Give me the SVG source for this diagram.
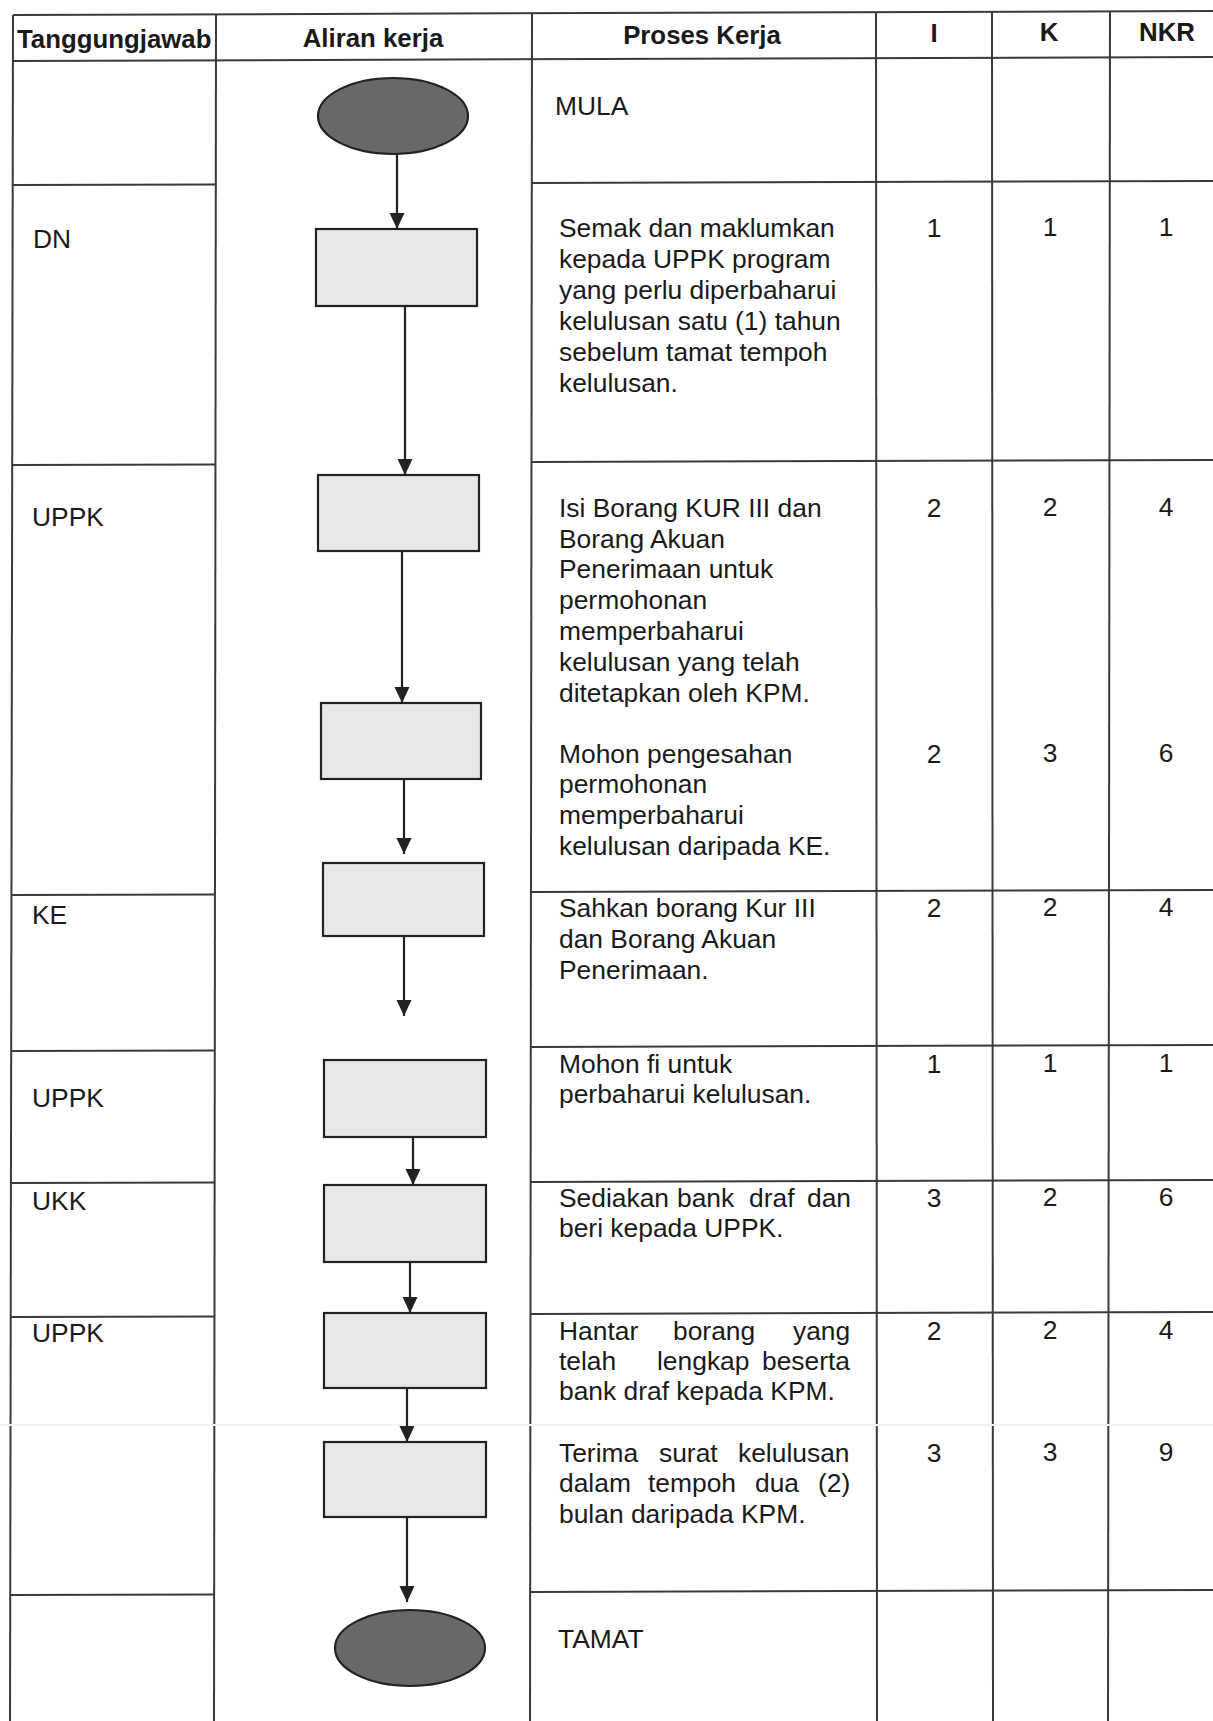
<svg xmlns="http://www.w3.org/2000/svg" width="1213" height="1721" viewBox="0 0 1213 1721">
<style>
.grid{stroke:#3a3a3a;stroke-width:2;fill:none}
.faint{stroke:#f3f3f3;stroke-width:2;fill:none}
.hd{font-family:"Liberation Sans",Arial,sans-serif;font-weight:bold;font-size:25.8px;fill:#1a1a1a}
.tx{font-family:"Liberation Sans",Arial,sans-serif;font-size:26.4px;fill:#1a1a1a}
.num{font-family:"Liberation Sans",Arial,sans-serif;font-size:26.4px;fill:#1a1a1a;text-anchor:middle}
.box{fill:#e7e7e7;stroke:#222;stroke-width:2.2}
.term{fill:#686868;stroke:#222;stroke-width:2.2}
.conn{stroke:#222;stroke-width:2.2;fill:none;marker-end:url(#ah)}
</style>
<defs>
<marker id="ah" markerUnits="userSpaceOnUse" markerWidth="17" markerHeight="16" refX="16" refY="8" orient="auto">
<path d="M0,0.5 L16,8 L0,15.5 z" fill="#222"/>
</marker>
</defs>
<rect width="1213" height="1721" fill="#fff"/>

<g id="table">
<line class="grid" x1="13" y1="15" x2="1213" y2="11"/>
<line class="grid" x1="13" y1="61" x2="1213" y2="57"/>
<line class="grid" x1="13" y1="15" x2="10" y2="1721"/>
<line class="grid" x1="216" y1="15" x2="214" y2="1721"/>
<line class="grid" x1="532" y1="13" x2="530" y2="1721"/>
<line class="grid" x1="876" y1="12" x2="877" y2="1721"/>
<line class="grid" x1="992" y1="12" x2="993" y2="1721"/>
<line class="grid" x1="1110" y1="11" x2="1108" y2="1721"/>
<line class="grid" x1="13" y1="185" x2="216" y2="184.5"/>
<line class="grid" x1="531" y1="183" x2="1213" y2="181"/>
<line class="grid" x1="13" y1="465" x2="216" y2="464.5"/>
<line class="grid" x1="531" y1="462" x2="1213" y2="460"/>
<line class="grid" x1="12" y1="895" x2="215" y2="894.5"/>
<line class="grid" x1="531" y1="892" x2="1213" y2="890"/>
<line class="grid" x1="12" y1="1051" x2="215" y2="1050.5"/>
<line class="grid" x1="531" y1="1047" x2="1213" y2="1045"/>
<line class="grid" x1="11" y1="1183" x2="215" y2="1182.5"/>
<line class="grid" x1="531" y1="1182" x2="1213" y2="1180"/>
<line class="grid" x1="11" y1="1317" x2="215" y2="1316.5"/>
<line class="grid" x1="531" y1="1314" x2="1213" y2="1312"/>
<line class="faint" x1="0" y1="1425" x2="1213" y2="1425"/>
<line class="grid" x1="10" y1="1595" x2="214" y2="1594.5"/>
<line class="grid" x1="531" y1="1592" x2="1213" y2="1590"/>
</g>

<g id="headers">
<text class="hd" x="17" y="48">Tanggungjawab</text>
<text class="hd" x="373" y="47" text-anchor="middle">Aliran kerja</text>
<text class="hd" x="702" y="44" text-anchor="middle">Proses Kerja</text>
<text class="hd" x="934" y="42" text-anchor="middle">I</text>
<text class="hd" x="1049" y="41" text-anchor="middle">K</text>
<text class="hd" x="1167" y="41" text-anchor="middle">NKR</text>
</g>

<g id="responsibility">
<text class="tx" x="33" y="248">DN</text>
<text class="tx" x="32" y="526">UPPK</text>
<text class="tx" x="32" y="924">KE</text>
<text class="tx" x="32" y="1107">UPPK</text>
<text class="tx" x="32" y="1210">UKK</text>
<text class="tx" x="32" y="1342">UPPK</text>
</g>

<g id="connectors">
<line class="conn" x1="397" y1="154" x2="397" y2="229"/>
<line class="conn" x1="405" y1="306" x2="405" y2="475"/>
<line class="conn" x1="402" y1="551" x2="402" y2="703"/>
<line class="conn" x1="404" y1="779" x2="404" y2="854"/>
<line class="conn" x1="404" y1="936" x2="404" y2="1016"/>
<line class="conn" x1="413" y1="1137" x2="413" y2="1185"/>
<line class="conn" x1="410" y1="1262" x2="410" y2="1313"/>
<line class="conn" x1="407" y1="1388" x2="407" y2="1442"/>
<line class="conn" x1="407" y1="1517" x2="407" y2="1602"/>
</g>

<g id="start"><ellipse class="term" cx="393" cy="116" rx="75" ry="38"/></g>
<g id="step1"><rect class="box" x="316" y="229" width="161" height="77"/></g>
<g id="step2"><rect class="box" x="318" y="475" width="161" height="76"/></g>
<g id="step3"><rect class="box" x="321" y="703" width="160" height="76"/></g>
<g id="step4"><rect class="box" x="323" y="863" width="161" height="73"/></g>
<g id="step5"><rect class="box" x="324" y="1060" width="162" height="77"/></g>
<g id="step6"><rect class="box" x="324" y="1185" width="162" height="77"/></g>
<g id="step7"><rect class="box" x="324" y="1313" width="162" height="75"/></g>
<g id="step8"><rect class="box" x="324" y="1442" width="162" height="75"/></g>
<g id="end"><ellipse class="term" cx="410" cy="1648" rx="75" ry="38"/></g>

<g id="process">
<text class="tx" x="555" y="115">MULA</text>
<text class="tx" x="559" y="237">Semak dan maklumkan</text>
<text class="tx" x="559" y="268">kepada UPPK program</text>
<text class="tx" x="559" y="299">yang perlu diperbaharui</text>
<text class="tx" x="559" y="330">kelulusan satu (1) tahun</text>
<text class="tx" x="559" y="361">sebelum tamat tempoh</text>
<text class="tx" x="559" y="392">kelulusan.</text>

<text class="tx" x="559" y="517">Isi Borang KUR III dan</text>
<text class="tx" x="559" y="548">Borang Akuan</text>
<text class="tx" x="559" y="578">Penerimaan untuk</text>
<text class="tx" x="559" y="609">permohonan</text>
<text class="tx" x="559" y="640">memperbaharui</text>
<text class="tx" x="559" y="671">kelulusan yang telah</text>
<text class="tx" x="559" y="702">ditetapkan oleh KPM.</text>

<text class="tx" x="559" y="763">Mohon pengesahan</text>
<text class="tx" x="559" y="793">permohonan</text>
<text class="tx" x="559" y="824">memperbaharui</text>
<text class="tx" x="559" y="855">kelulusan daripada KE.</text>

<text class="tx" x="559" y="917">Sahkan borang Kur III</text>
<text class="tx" x="559" y="948">dan Borang Akuan</text>
<text class="tx" x="559" y="979">Penerimaan.</text>

<text class="tx" x="559" y="1073">Mohon fi untuk</text>
<text class="tx" x="559" y="1103">perbaharui kelulusan.</text>

<text class="tx" y="1207"><tspan x="559">Sediakan </tspan><tspan x="677">bank </tspan><tspan x="749">draf </tspan><tspan x="807">dan</tspan></text>
<text class="tx" x="559" y="1237">beri kepada UPPK.</text>

<text class="tx" y="1340"><tspan x="559">Hantar </tspan><tspan x="673">borang </tspan><tspan x="793">yang</tspan></text>
<text class="tx" y="1370"><tspan x="559">telah </tspan><tspan x="657">lengkap </tspan><tspan x="762">beserta</tspan></text>
<text class="tx" x="559" y="1400">bank draf kepada KPM.</text>

<text class="tx" y="1462"><tspan x="559">Terima </tspan><tspan x="659">surat </tspan><tspan x="738">kelulusan</tspan></text>
<text class="tx" y="1492"><tspan x="559">dalam </tspan><tspan x="648">tempoh </tspan><tspan x="755">dua </tspan><tspan x="818">(2)</tspan></text>
<text class="tx" x="559" y="1523">bulan daripada KPM.</text>

<text class="tx" x="558" y="1648">TAMAT</text>
</g>

<g id="ratings">
<text class="num" x="934" y="237">1</text><text class="num" x="1050" y="236">1</text><text class="num" x="1166" y="236">1</text>
<text class="num" x="934" y="517">2</text><text class="num" x="1050" y="516">2</text><text class="num" x="1166" y="516">4</text>
<text class="num" x="934" y="763">2</text><text class="num" x="1050" y="762">3</text><text class="num" x="1166" y="762">6</text>
<text class="num" x="934" y="917">2</text><text class="num" x="1050" y="916">2</text><text class="num" x="1166" y="916">4</text>
<text class="num" x="934" y="1073">1</text><text class="num" x="1050" y="1072">1</text><text class="num" x="1166" y="1072">1</text>
<text class="num" x="934" y="1207">3</text><text class="num" x="1050" y="1206">2</text><text class="num" x="1166" y="1206">6</text>
<text class="num" x="934" y="1340">2</text><text class="num" x="1050" y="1339">2</text><text class="num" x="1166" y="1339">4</text>
<text class="num" x="934" y="1462">3</text><text class="num" x="1050" y="1461">3</text><text class="num" x="1166" y="1461">9</text>
</g>
</svg>
